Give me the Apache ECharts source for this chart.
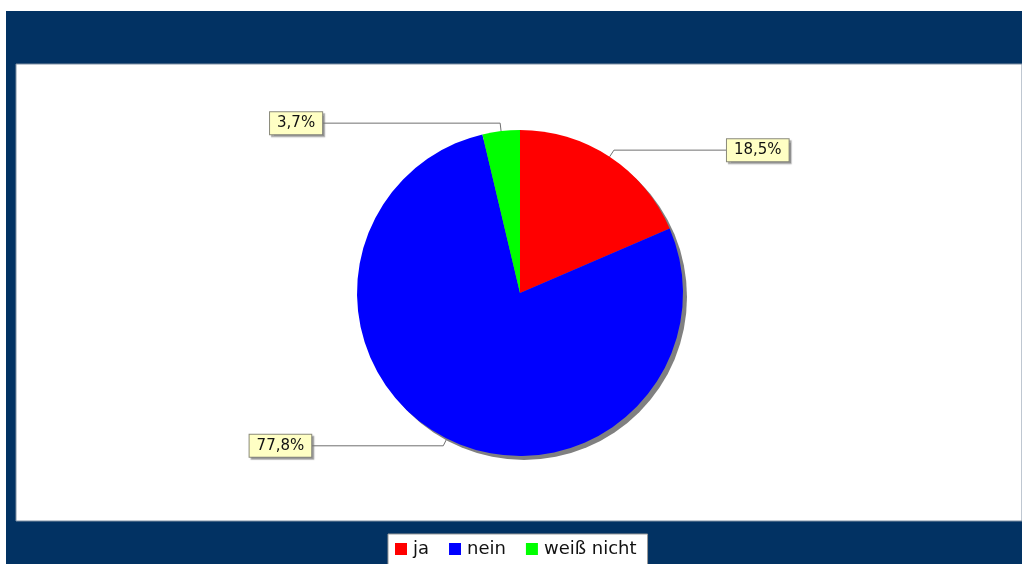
<!DOCTYPE html>
<html>
<head>
<meta charset="utf-8">
<script src="https://cdn.jsdelivr.net/npm/echarts@6/dist/echarts.min.js"></script>
<style>
  html, body { margin: 0; padding: 0; background: #fff; }
  #chart { width: 1022px; height: 564px; }
</style>
</head>
<body>
<div id="chart"></div>
<script>
// answers (counts), 27 in total
const categories = ["ja", "nein", "weiß nicht"];
const counts = [5, 21, 1];
const colors = ["#ff0000", "#0000ff", "#00ff00"];
// horizontal leader length for each label
const leaderLen = [113, 132, 178];

const total = counts.reduce((a, b) => a + b, 0);
const fmtPct = v => (v / total * 100).toFixed(1).replace(".", ",") + "%";

const chart = echarts.init(document.getElementById("chart"));

const option = {
    animation: false,
    backgroundColor: "#ffffff",
    graphic: [
        { type: "rect", z: -10, shape: { x: 6, y: 11, width: 1016, height: 553 }, style: { fill: "#023263" } },
        { type: "rect", z: -9, shape: { x: 16, y: 64, width: 1006, height: 457 },
          style: { fill: "#ffffff", stroke: "#7f8fa3", lineWidth: 1 } }
    ],
    legend: {
        left: 388,
        top: 534,
        icon: "rect",
        itemWidth: 12,
        itemHeight: 12,
        itemGap: 20,
        padding: [6, 11, 8, 7],
        backgroundColor: "#ffffff",
        borderColor: "#999999",
        borderWidth: 1,
        data: categories,
        textStyle: { fontFamily: "DejaVu Sans", fontSize: 18, color: "#111", padding: [0, 0, 0, 1] }
    },
    series: [
        {
            // drop shadow behind the pie
            type: "pie",
            silent: true,
            center: [524, 297],
            radius: 163,
            label: { show: false },
            labelLine: { show: false },
            data: [{ value: 1, name: "shadow", itemStyle: { color: "#808080" } }],
            legendHoverLink: false
        },
        {
            type: "pie",
            center: [520, 293],
            radius: 163,
            startAngle: 90,
            clockwise: true,
            avoidLabelOverlap: false,
            itemStyle: { borderWidth: 0 },
            label: {
                show: true,
                position: "outside",
                distanceToLabelLine: 0,
                fontFamily: "DejaVu Sans",
                fontSize: 15,
                color: "#111",
                backgroundColor: "#ffffc4",
                borderColor: "#8a8a7a",
                borderWidth: 1,
                padding: [4, 7, 3, 7],
                shadowColor: "rgba(120,120,120,0.6)",
                shadowOffsetX: 2,
                shadowOffsetY: 2,
                shadowBlur: 1,
                formatter: p => fmtPct(p.value)
            },
            labelLine: {
                show: true,
                length: 8,
                lineStyle: { color: "#707070", width: 1 }
            },
            data: categories.map((c, i) => ({
                name: c,
                value: counts[i],
                itemStyle: { color: colors[i] },
                labelLine: { length: 8, length2: leaderLen[i] }
            }))
        }
    ]
};

chart.setOption(option);
</script>
</body>
</html>
